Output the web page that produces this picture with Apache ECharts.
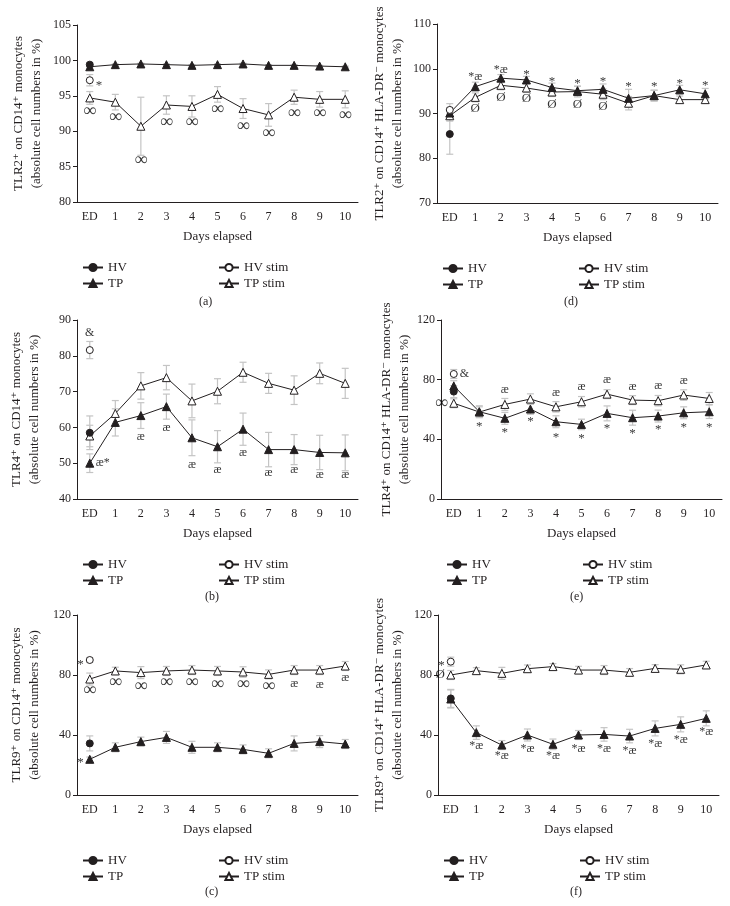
<!DOCTYPE html>
<html><head><meta charset="utf-8">
<script src="https://cdn.jsdelivr.net/npm/echarts@6/dist/echarts.min.js"></script>
<style>html,body{margin:0;padding:0;background:#fff}#c{width:730px;height:906px}</style>
</head><body><div id="c"></div>
<script>
const days = ['ED','1','2','3','4','5','6','7','8','9','10'];

// (a) TLR2+ on CD14+
const a_HV = [99.4], a_HV_err = [0.3];
const a_HVstim = [97.2], a_HVstim_err = [0.8];
const a_TP = [99.1, 99.4, 99.5, 99.4, 99.3, 99.4, 99.5, 99.3, 99.3, 99.2, 99.1];
const a_TP_err = [0.2, 0.1, 0.1, 0.1, 0.1, 0.1, 0.1, 0.1, 0.1, 0.1, 0.1];
const a_TPstim = [94.7, 94.1, 90.7, 93.7, 93.5, 95.2, 93.2, 92.3, 94.8, 94.5, 94.5];
const a_TPstim_err = [0.9, 1.1, 4.1, 1.3, 1.5, 1.1, 1.4, 1.6, 1.0, 1.1, 1.2];
const a_notes = [[0,96.9,'*','r'],[0,92.8,'∞','c'],[1,91.9,'∞','c'],[2,85.9,'∞','c'],[3,91.3,'∞','c'],[4,91.2,'∞','c'],[5,93.1,'∞','c'],[6,90.7,'∞','c'],[7,89.7,'∞','c'],[8,92.6,'∞','c'],[9,92.6,'∞','c'],[10,92.3,'∞','c']];

// (b) TLR4+ on CD14+
const b_HV = [58.5], b_HV_err = [4.7];
const b_HVstim = [81.6], b_HVstim_err = [2.4];
const b_TP = [50.0, 61.4, 63.3, 65.8, 57.1, 54.6, 59.5, 53.8, 53.8, 53.0, 52.9];
const b_TP_err = [2.6, 3.8, 3.6, 3.5, 5.0, 4.5, 4.5, 4.8, 4.2, 4.8, 5.0];
const b_TPstim = [57.6, 63.9, 71.6, 73.9, 67.4, 70.1, 75.4, 72.3, 70.4, 75.1, 72.3];
const b_TPstim_err = [3.0, 3.6, 3.7, 3.4, 4.7, 3.5, 2.8, 2.8, 4.0, 2.9, 4.2];
const b_notes = [[0,86.3,'&','c'],[0,50.0,'æ*','r'],[2,57.4,'æ','c'],[3,60.0,'æ','c'],[4,49.5,'æ','c'],[5,48.1,'æ','c'],[6,53.0,'æ','c'],[7,47.3,'æ','c'],[8,48.1,'æ','c'],[9,46.7,'æ','c'],[10,46.7,'æ','c']];

// (c) TLR9+ on CD14+
const c_HV = [34.4], c_HV_err = [5.0];
const c_HVstim = [90.0], c_HVstim_err = [1.5];
const c_TP = [23.8, 31.8, 35.6, 38.4, 31.8, 31.8, 30.4, 27.8, 34.4, 35.6, 34.0];
const c_TP_err = [1.5, 3.0, 3.0, 4.0, 4.0, 3.0, 3.0, 3.0, 5.0, 4.0, 3.0];
const c_TPstim = [77.3, 82.7, 81.6, 82.7, 83.3, 82.7, 82.0, 80.4, 83.3, 83.3, 86.0];
const c_TPstim_err = [4.0, 2.5, 4.0, 3.0, 3.0, 3.0, 3.5, 3.0, 3.0, 3.0, 3.0];
const c_notes = [[0,88.9,'*','l'],[0,23.3,'*','l'],[0,70.0,'∞','c'],[1,74.9,'∞','c'],[2,72.7,'∞','c'],[3,74.9,'∞','c'],[4,74.9,'∞','c'],[5,73.8,'∞','c'],[6,73.8,'∞','c'],[7,72.2,'∞','c'],[8,73.8,'æ','c'],[9,73.3,'æ','c'],[10,77.8,'æ','c']];

// (d) TLR2+ on CD14+ HLA-DR-
const d_HV = [85.4], d_HV_err = [4.5];
const d_HVstim = [90.8], d_HVstim_err = [1.4];
const d_TP = [90.1, 96.0, 97.9, 97.5, 95.8, 95.1, 95.4, 93.4, 94.0, 95.3, 94.4];
const d_TP_err = [1.2, 1.0, 0.8, 0.8, 1.0, 1.0, 1.2, 2.0, 1.2, 1.0, 1.2];
const d_TPstim = [89.5, 93.6, 96.3, 95.7, 94.8, 94.9, 94.3, 92.3, 94.0, 93.1, 93.1];
const d_TPstim_err = [1.2, 1.0, 1.0, 1.0, 1.0, 1.2, 1.2, 1.5, 1.2, 0.8, 0.8];
const d_notes = [[1,98.3,'*æ','c'],[2,99.8,'*æ','c'],[3,99.4,'*','c'],[4,97.8,'*','c'],[5,97.4,'*','c'],[6,97.9,'*','c'],[7,96.6,'*','c'],[8,96.6,'*','c'],[9,97.4,'*','c'],[10,97.0,'*','c'],[1,91.2,'Ø','c'],[2,93.6,'Ø','c'],[3,93.4,'Ø','c'],[4,91.9,'Ø','c'],[5,92.1,'Ø','c'],[6,91.6,'Ø','c']];

// (e) TLR4+ on CD14+ HLA-DR-
const e_HV = [72.0], e_HV_err = [4.0];
const e_HVstim = [83.8], e_HVstim_err = [3.0];
const e_TP = [75.8, 58.5, 54.1, 60.3, 51.8, 50.0, 57.4, 54.5, 55.6, 57.8, 58.5];
const e_TP_err = [3.5, 4.0, 4.0, 3.5, 4.0, 3.5, 5.0, 5.0, 4.0, 4.0, 4.5];
const e_TPstim = [64.2, 58.3, 63.4, 67.0, 61.8, 65.2, 70.3, 66.3, 65.9, 69.7, 67.4];
const e_TPstim_err = [3.0, 3.5, 4.0, 3.5, 3.5, 3.5, 3.0, 3.0, 3.5, 3.5, 4.0];
const e_notes = [[0,64.2,'∞','l'],[0,84.2,'&','r'],[2,73.5,'æ','c'],[4,71.5,'æ','c'],[5,75.3,'æ','c'],[6,80.2,'æ','c'],[7,75.3,'æ','c'],[8,75.7,'æ','c'],[9,79.3,'æ','c'],[1,50.3,'*','c'],[2,46.3,'*','c'],[3,53.6,'*','c'],[4,42.9,'*','c'],[5,42.4,'*','c'],[6,48.9,'*','c'],[7,46.2,'*','c'],[8,48.4,'*','c'],[9,50.0,'*','c'],[10,50.0,'*','c']];

// (f) TLR9+ on CD14+ HLA-DR-
const f_HV = [64.4], f_HV_err = [6.0];
const f_HVstim = [88.9], f_HVstim_err = [3.0];
const f_TP = [64.0, 41.6, 33.3, 40.0, 33.8, 40.0, 40.4, 39.3, 44.4, 47.1, 51.1];
const f_TP_err = [6.0, 4.5, 3.0, 4.0, 3.5, 3.0, 4.5, 4.5, 5.0, 5.0, 5.0];
const f_TPstim = [80.0, 82.9, 81.1, 84.2, 85.6, 83.3, 83.3, 81.8, 84.4, 83.8, 86.7];
const f_TPstim_err = [3.0, 2.0, 4.0, 2.5, 2.0, 2.5, 3.0, 2.5, 2.5, 3.0, 2.5];
const f_notes = [[0,88.6,'*','l'],[0,80.0,'Ø','l'],[1,32.9,'*æ','c'],[2,26.2,'*æ','c'],[3,31.1,'*æ','c'],[4,26.2,'*æ','c'],[5,31.1,'*æ','c'],[6,31.1,'*æ','c'],[7,29.6,'*æ','c'],[8,34.4,'*æ','c'],[9,37.1,'*æ','c'],[10,42.2,'*æ','c']];

const panels = [
  {tag:'(a)', title:'TLR2⁺ on CD14⁺ monocytes', min:80, max:105, interval:5,
   HV:a_HV, HVe:a_HV_err, HVs:a_HVstim, HVse:a_HVstim_err, TP:a_TP, TPe:a_TP_err, TPs:a_TPstim, TPse:a_TPstim_err, notes:a_notes,
   grid:{left:77, width:281, top:25, height:177}, gap:31, lx:207, ly:303},
  {tag:'(b)', title:'TLR4⁺ on CD14⁺ monocytes', min:40, max:90, interval:10,
   HV:b_HV, HVe:b_HV_err, HVs:b_HVstim, HVse:b_HVstim_err, TP:b_TP, TPe:b_TP_err, TPs:b_TPstim, TPse:b_TPstim_err, notes:b_notes,
   grid:{left:77, width:281, top:320, height:179}, gap:33, lx:213, ly:598},
  {tag:'(c)', title:'TLR9⁺ on CD14⁺ monocytes', min:0, max:120, interval:40,
   HV:c_HV, HVe:c_HV_err, HVs:c_HVstim, HVse:c_HVstim_err, TP:c_TP, TPe:c_TP_err, TPs:c_TPstim, TPse:c_TPstim_err, notes:c_notes,
   grid:{left:77, width:281, top:615, height:180}, gap:33, lx:213, ly:893},
  {tag:'(d)', title:'TLR2⁺ on CD14⁺ HLA-DR⁻ monocytes', min:70, max:110, interval:10,
   HV:d_HV, HVe:d_HV_err, HVs:d_HVstim, HVse:d_HVstim_err, TP:d_TP, TPe:d_TP_err, TPs:d_TPstim, TPse:d_TPstim_err, notes:d_notes,
   grid:{left:437, width:281, top:24, height:179}, gap:30, lx:572, ly:303},
  {tag:'(e)', title:'TLR4⁺ on CD14⁺ HLA-DR⁻ monocytes', min:0, max:120, interval:40,
   HV:e_HV, HVe:e_HV_err, HVs:e_HVstim, HVse:e_HVstim_err, TP:e_TP, TPe:e_TP_err, TPs:e_TPstim, TPse:e_TPstim_err, notes:e_notes,
   grid:{left:441, width:281, top:320, height:179}, gap:22, lx:578, ly:598},
  {tag:'(f)', title:'TLR9⁺ on CD14⁺ HLA-DR⁻ monocytes', min:0, max:120, interval:40,
   HV:f_HV, HVe:f_HV_err, HVs:f_HVstim, HVse:f_HVstim_err, TP:f_TP, TPe:f_TP_err, TPs:f_TPstim, TPse:f_TPstim_err, notes:f_notes,
   grid:{left:438, width:281, top:615, height:180}, gap:31, lx:578, ly:893}
];

const FONT = '"Liberation Serif", "DejaVu Serif", serif';
const TXT = '#231f20';
const ERR = '#c4c4c4';

function errRender(params, api) {
  const x = api.value(0), y = api.value(1), e = api.value(2);
  const t = api.coord([x, y + e]), b = api.coord([x, y - e]);
  const w = 3.5, st = {stroke: ERR, lineWidth: 1.2};
  return {type:'group', children:[
    {type:'line', shape:{x1:t[0], y1:t[1], x2:b[0], y2:b[1]}, style:st},
    {type:'line', shape:{x1:t[0]-w, y1:t[1], x2:t[0]+w, y2:t[1]}, style:st},
    {type:'line', shape:{x1:b[0]-w, y1:b[1], x2:b[0]+w, y2:b[1]}, style:st}
  ]};
}

function noteLabel(n) {
  const txt = n[2];
  const pos = n[3]==='l' ? 'left' : (n[3]==='r' ? 'right' : 'inside');
  const lab = {show:true, formatter:txt, position:pos, distance:2, color:'#000', fontFamily:FONT, fontSize:12};
  if (txt === '∞') { lab.fontSize = 18; lab.offset = [0, 0]; }
  if (txt === '*') { lab.fontSize = 13; lab.offset = [0, 3]; }
  if (txt === 'Ø') { lab.fontSize = 13; }
  return lab;
}

const grid = [], xAxis = [], yAxis = [], series = [], legend = [], graphic = [];
panels.forEach((p, i) => {
  grid.push(Object.assign({containLabel:false}, p.grid));
  xAxis.push({type:'category', gridIndex:i, data:days, boundaryGap:true,
    axisLine:{lineStyle:{color:'#231f20', width:1}}, axisTick:{show:false},
    axisLabel:{color:TXT, fontFamily:FONT, fontSize:12, margin:9},
    name:'Days elapsed', nameLocation:'middle', nameGap:28,
    nameTextStyle:{color:TXT, fontFamily:FONT, fontSize:13}});
  yAxis.push({type:'value', gridIndex:i, min:p.min, max:p.max, interval:p.interval,
    axisLine:{show:true, lineStyle:{color:'#231f20', width:1}},
    axisTick:{show:true, length:4, lineStyle:{color:'#231f20'}}, splitLine:{show:false},
    axisLabel:{color:TXT, fontFamily:FONT, fontSize:12, margin:6},
    name:p.title + '\n(absolute cell numbers in %)', nameLocation:'middle', nameRotate:90, nameGap:p.gap,
    nameTextStyle:{color:TXT, fontFamily:FONT, fontSize:13, lineHeight:18, align:'center'}});
  const mk = (arr, errs) => arr.map((v, k) => [k, v, errs[k]]);
  series.push({type:'custom', name:'err'+i, xAxisIndex:i, yAxisIndex:i, renderItem:errRender,
    data:[].concat(mk(p.TPs, p.TPse), mk(p.TP, p.TPe), mk(p.HVs, p.HVse), mk(p.HV, p.HVe)),
    z:1, silent:true, clip:false});
  const line = {color:'#231f20', width:1};
  series.push({type:'line', name:'TP stim', xAxisIndex:i, yAxisIndex:i, data:p.TPs, symbol:'triangle', symbolSize:8,
    lineStyle:line, itemStyle:{color:'#fff', borderColor:'#231f20', borderWidth:1}, z:3, animation:false});
  series.push({type:'line', name:'TP', xAxisIndex:i, yAxisIndex:i, data:p.TP, symbol:'triangle', symbolSize:8,
    lineStyle:line, itemStyle:{color:'#231f20', borderColor:'#231f20', borderWidth:1}, z:4, animation:false});
  series.push({type:'line', name:'HV stim', xAxisIndex:i, yAxisIndex:i, data:p.HVs, symbol:'circle', symbolSize:7,
    lineStyle:line, itemStyle:{color:'#fff', borderColor:'#231f20', borderWidth:1}, z:5, animation:false});
  series.push({type:'line', name:'HV', xAxisIndex:i, yAxisIndex:i, data:p.HV, symbol:'circle', symbolSize:7,
    lineStyle:line, itemStyle:{color:'#231f20', borderColor:'#231f20', borderWidth:1}, z:6, animation:false});
  series.push({type:'scatter', name:'notes'+i, xAxisIndex:i, yAxisIndex:i, symbolSize:8, silent:true, z:7,
    itemStyle:{color:'rgba(0,0,0,0)'},
    data:p.notes.map(n => ({value:[n[0], n[1]], label:noteLabel(n)}))});
  const g = p.grid;
  const legTop = g.top + g.height + 54;
  const legCommon = {orient:'vertical', itemWidth:20, itemHeight:9, itemGap:3, selectedMode:false,
    textStyle:{color:TXT, fontFamily:FONT, fontSize:13}, top:legTop};
  legend.push(Object.assign({left:g.left, data:['HV','TP']}, legCommon));
  legend.push(Object.assign({left:g.left + 136, data:['HV stim','TP stim']}, legCommon));
  graphic.push({type:'text', left:p.lx - 8, top:p.ly - 7, style:{text:p.tag, fill:TXT, font:'12px ' + FONT}});
});

const chart = echarts.init(document.getElementById('c'), null, {renderer:'canvas'});
chart.setOption({animation:false, backgroundColor:'#fff', grid, xAxis, yAxis, series, legend, graphic});
</script></body></html>
